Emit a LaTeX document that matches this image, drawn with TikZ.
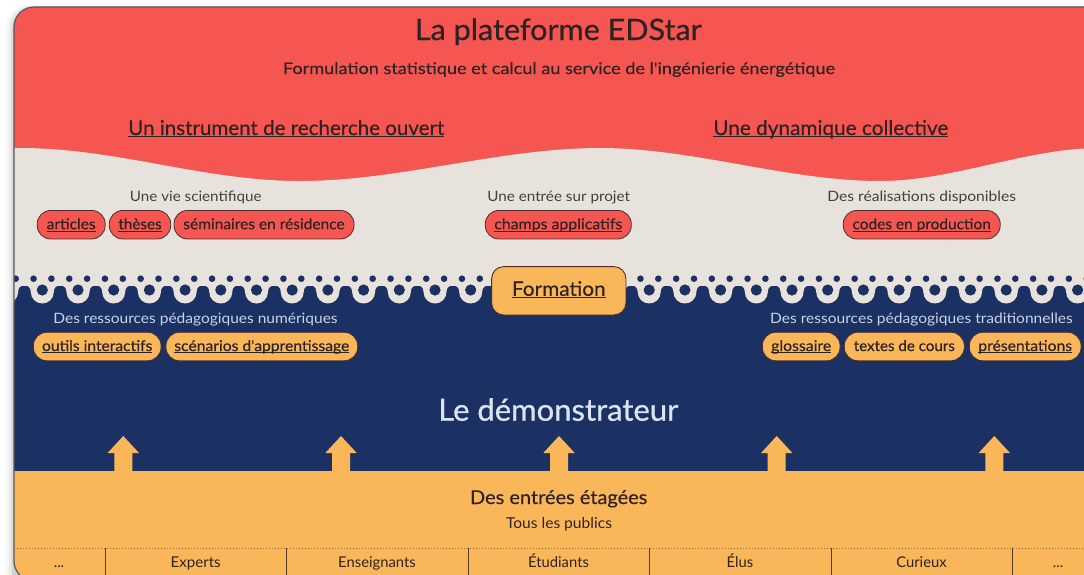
\documentclass[tikz,border=0pt]{standalone}
\usepackage{fontspec}
\setmainfont{Lato}
\newfontfamily\heavyfont{Lato}[FakeBold=0.7]
\newfontfamily\medfont{Lato}[FakeBold=0.25]
\newsavebox{\ulbox}
\newcommand{\ul}[1]{\sbox{\ulbox}{#1}\leavevmode\rlap{\rule[-2.3pt]{\wd\ulbox}{0.9pt}}\usebox{\ulbox}}
\newsavebox{\fitbox}
\newcommand{\fitw}[2]{\sbox{\fitbox}{#2}\pgfmathsetmacro\fitratio{#1/\wd\fitbox}\scalebox{\fitratio}[1]{\usebox{\fitbox}}}
\definecolor{cred}{HTML}{F55651}
\definecolor{cbeige}{HTML}{E8E2DC}
\definecolor{cblue}{HTML}{1C3163}
\definecolor{corange}{HTML}{FAB75A}
\definecolor{cdark}{HTML}{2E2222}
\definecolor{cgrey}{HTML}{45403D}
\definecolor{clight}{HTML}{CAD4E6}
\definecolor{cedge}{HTML}{4A2E2E}
\definecolor{cdemo}{HTML}{DDE4F1}
\definecolor{csep}{HTML}{4E3C28}
\definecolor{cdot}{HTML}{8C6E48}
\definecolor{cborder}{HTML}{5A5A5A}
\newcommand{\fs}[1]{\fontsize{#1}{#1}\selectfont}
\tikzset{
  pill/.style={draw=cedge, line width=0.8pt, rounded corners=13.5pt, minimum height=28.5pt,
    inner xsep=0pt, inner ysep=0pt, text height=12pt, text depth=3pt, font=\medfont\fs{14.8}, text=cdark},
  redpill/.style={pill, fill=cred},
  orpill/.style={pill, fill=corange},
  beigehead/.style={anchor=base, font=\fs{14.3}, text=cgrey},
  bluehead/.style={anchor=base, font=\fs{14.3}, text=clight},
  sechead/.style={anchor=base, font=\medfont\fs{20.3}, text=cdark},
  collabel/.style={anchor=base, font=\fs{14.8}, text=cdark},
}
\begin{document}
\begin{tikzpicture}[x=1pt,y=-1pt]
\useasboundingbox (0,0) rectangle (1084,574);
\fill[white] (0,0) rectangle (1084,574);
% shadow
\foreach \s/\o in {9/0.015,7/0.025,5/0.035,3/0.05,1.5/0.07}{
  \fill[black, opacity=\o, rounded corners=22pt] (14-\s,7-\s*0.2) rectangle (1130,600);
}
\begin{scope}
  \clip[rounded corners=20pt] (14,7) rectangle (1130,581);
  % red top
  \fill[cred] (0,0) rectangle (1130,200);
  % beige wave band
  \fill[cbeige] (0,148) -- (20,148)
     .. controls (116.7,148) and (203.3,181) .. (300,181)
     .. controls (400,181) and (500,148) .. (600,148)
     .. controls (693.3,148) and (786.7,181) .. (880,181)
     .. controls (953.3,181) and (1026.7,148) .. (1100,148)
     -- (1130,148) -- (1130,300) -- (0,300) -- cycle;
  % blue band
  \fill[cblue] (0,285.5) rectangle (1130,472);
  \foreach \k in {0,...,31}{
    \pgfmathsetmacro\cx{6.6+35.7*\k}
    \fill[cbeige] (\cx-17.85,285.5) .. controls (\cx-14,285.5) and (\cx-11.5,287.5) .. (\cx-11.5,292)
       arc[start angle=180,end angle=360,radius=11.5pt]
       .. controls (\cx+11.5,287.5) and (\cx+14,285.5) .. (\cx+17.85,285.5) -- cycle;
    \fill[cblue] (\cx,290) circle[radius=5.6pt];
  }
  \foreach \k in {0,...,62}{
    \fill[cblue] ({15.7+17.85*\k},278.7) circle[radius=3.3pt];
  }
  % orange band
  \fill[corange] (0,471) rectangle (1130,600);
  % arrows
  \foreach \c in {123.3,341,559,776.7,994.3}{
    \fill[corange] (\c,436) -- (\c+15.7,453) -- (\c+9,453) -- (\c+9,472) -- (\c-9,472)
       -- (\c-9,453) -- (\c-15.7,453) -- cycle;
  }
  % audience table
  \draw[cdot, line width=0.9pt, dash pattern=on 1pt off 2pt] (14,548) -- (1130,548);
  \foreach \x in {105,286,468,649,831,1012}{
    \draw[csep, line width=0.9pt] (\x,548) -- (\x,590);
  }
\end{scope}
\draw[cborder, line width=1.2pt, rounded corners=20pt] (14,7) rectangle (1130,581);

% titles
\node[anchor=base, font=\heavyfont\fs{29.5}, text=cdark] (title) at (558.3,40) {\fitw{286.7}{La plateforme EDStar}};
\node[anchor=base, font=\medfont\fs{16}, text=cdark] (subtitle) at (559,74)
  {\fitw{552}{Formulation statistique et calcul au service de l'ingénierie énergétique}};
\node[sechead] (h1) at (286.3,135) {\fitw{316}{\ul{Un instrument de recherche ouvert}}};
\node[sechead] (h2) at (830.8,135) {\fitw{235}{\ul{Une dynamique collective}}};

% beige area
\node[beigehead] (s1) at (195.8,201.3) {\fitw{131.7}{Une vie scientifique}};
\node[beigehead] (s2) at (558.7,201.3) {\fitw{142.7}{Une entrée sur projet}};
\node[beigehead] (s3) at (921.7,201.3) {\fitw{188.7}{Des réalisations disponibles}};
\node[redpill, minimum width=68pt] (articles) at (71.2,224.7) {\fitw{49}{\ul{articles}}};
\node[redpill, minimum width=61.4pt] (theses) at (140,224.7) {\fitw{43.3}{\ul{thèses}}};
\node[redpill, minimum width=180pt] (seminaires) at (264,224.7) {\fitw{161.3}{séminaires en résidence}};
\node[redpill, minimum width=146pt] (champs) at (558.3,224.7) {\fitw{128}{\ul{champs applicatifs}}};
\node[redpill, minimum width=157pt] (codes) at (921.7,224.7) {\fitw{138.3}{\ul{codes en production}}};

% formation
\node[draw=cedge, line width=0.9pt, fill=corange, rounded corners=12pt, minimum width=134.3pt,
  minimum height=48.3pt, inner sep=0pt, text height=14pt, text depth=4pt, font=\medfont\fs{20}, text=cdark]
  (formation) at (558.8,290.8) {\fitw{93.7}{\ul{Formation}}};

% blue area
\node[bluehead] (b1) at (195.5,323.3) {\fitw{284.3}{Des ressources pédagogiques numériques}};
\node[bluehead] (b2) at (921.5,323.3) {\fitw{302.7}{Des ressources pédagogiques traditionnelles}};
\node[orpill, minimum width=127.7pt] (outils) at (97.2,346.5) {\fitw{110.3}{\ul{outils interactifs}}};
\node[orpill, minimum width=191.7pt] (scenarios) at (261.8,346.5) {\fitw{175}{\ul{scénarios d'apprentissage}}};
\node[orpill, minimum width=77.7pt] (glossaire) at (801.2,346.5) {\fitw{60}{\ul{glossaire}}};
\node[orpill, minimum width=120pt] (textes) at (904.3,346.5) {\fitw{101}{textes de cours}};
\node[orpill, minimum width=111.7pt] (presentations) at (1025.2,346.5) {\fitw{93.7}{\ul{présentations}}};
\node[anchor=base, font=\heavyfont\fs{30.5}, text=cdemo] (demo) at (558.3,420.7) {\fitw{240}{Le démonstrateur}};

% orange area
\node[anchor=base, font=\medfont\fs{19}, text=cdark] (entrees) at (558.7,504) {\fitw{177.3}{Des entrées étagées}};
\node[anchor=base, font=\fs{15}, text=cdark] (publics) at (559,528.3) {\fitw{106}{Tous les publics}};
\node[collabel] (c0) at (59,567.3) {...};
\node[collabel] (c1) at (195.7,567.3) {\fitw{50}{Experts}};
\node[collabel] (c2) at (377,567.3) {Enseignants};
\node[collabel] (c3) at (558.5,567.3) {Étudiants};
\node[collabel] (c4) at (740,567.3) {Élus};
\node[collabel] (c5) at (921.5,567.3) {Curieux};
\node[collabel] (c6) at (1058,567.3) {...};
\end{tikzpicture}
\end{document}
